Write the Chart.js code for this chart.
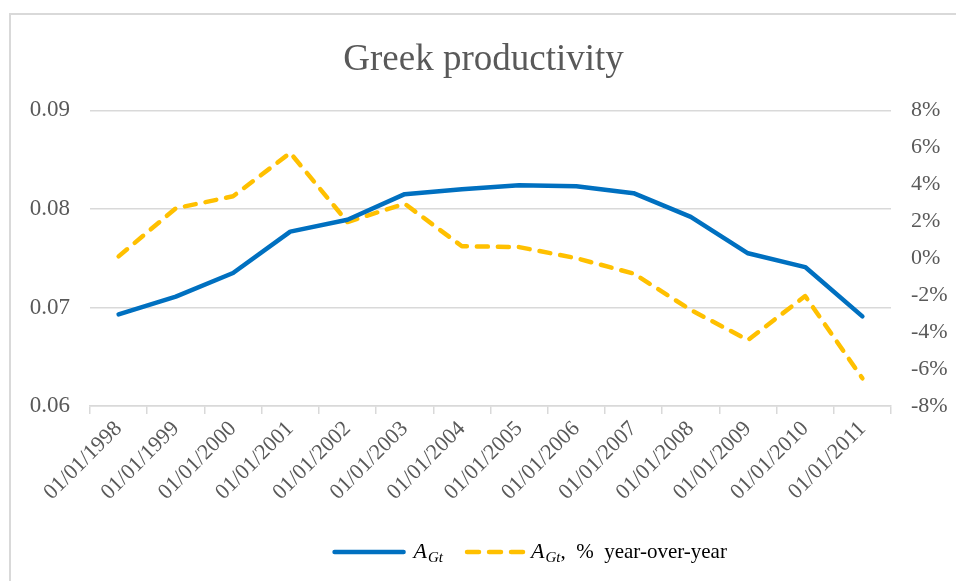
<!DOCTYPE html>
<html>
<head>
<meta charset="utf-8">
<script src="https://cdn.jsdelivr.net/npm/chart.js@4.4.1/dist/chart.umd.min.js"></script>
<style>
  html, body { margin: 0; padding: 0; background: #fff; width: 956px; height: 581px; overflow: hidden; }
  #frame { position: absolute; left: 9px; top: 13px; width: 1000px; height: 620px; border: 2px solid #d9d9d9; box-sizing: border-box; }
  #wrap { position: absolute; left: 11px; top: 15px; width: 945px; height: 566px; }
</style>
</head>
<body>
<div id="frame"></div>
<div id="wrap"><canvas id="chart"></canvas></div>
<script>
const categories = [
  "01/01/1998", "01/01/1999", "01/01/2000", "01/01/2001", "01/01/2002",
  "01/01/2003", "01/01/2004", "01/01/2005", "01/01/2006", "01/01/2007",
  "01/01/2008", "01/01/2009", "01/01/2010", "01/01/2011"
];
const productivity = [0.0693, 0.0711, 0.0735, 0.0777, 0.0789, 0.0815, 0.0820,
  0.0824, 0.0823, 0.0816, 0.0792, 0.0755, 0.0741, 0.0691];
// year-over-year change, in percent
const growthPct = [0.1, 2.7, 3.35, 5.7, 1.96, 2.95, 0.65,
  0.6, 0.0, -0.83, -2.8, -4.43, -2.05, -6.5];
const leftTicks = [0.06, 0.07, 0.08, 0.09];
const rightTicks = [-8, -6, -4, -2, 0, 2, 4, 6, 8];

const SERIF = "'Liberation Serif', 'Times New Roman', serif";
const GREY = "#595959";
const GRID = "#d9d9d9";

// legend drawn by hand so the subscript can be shown
const mathLegend = {
  id: "mathLegend",
  afterDraw(chart) {
    const ctx = chart.ctx;
    const ds = chart.data.datasets;
    const y = chart.height - 29;
    const big = "italic 22px " + SERIF;
    const small = "italic 15px " + SERIF;
    const plain = "21px " + SERIF;
    ctx.save();
    ctx.textBaseline = "middle";

    const symbolWidth = () => {
      ctx.font = big; const a = ctx.measureText("A").width;
      ctx.font = small; const b = ctx.measureText("Gt").width;
      return a + b + 1;
    };
    const drawSymbol = (x) => {
      ctx.fillStyle = "#000";
      ctx.font = big; ctx.fillText("A", x, y);
      const a = ctx.measureText("A").width;
      ctx.font = small; ctx.fillText("Gt", x + a + 1, y + 6);
      return x + symbolWidth();
    };
    ctx.font = plain;
    const tail = ",  %  year-over-year";
    const tailW = ctx.measureText(tail).width;
    const total = 69 + 10 + symbolWidth() + 22 + 60 + 6 + symbolWidth() + tailW;
    let x = chart.width * 0.55 - total / 2;

    ctx.lineCap = "round";
    ctx.lineWidth = 4.5;
    ctx.strokeStyle = ds[0].borderColor;
    ctx.beginPath(); ctx.moveTo(x, y); ctx.lineTo(x + 69, y); ctx.stroke();
    x = drawSymbol(x + 79) + 22;

    ctx.strokeStyle = ds[1].borderColor;
    ctx.setLineDash([12, 10]);
    ctx.beginPath(); ctx.moveTo(x + 2, y); ctx.lineTo(x + 58, y); ctx.stroke();
    ctx.setLineDash([]);
    x = drawSymbol(x + 66);
    ctx.font = plain;
    ctx.fillStyle = "#000";
    ctx.fillText(tail, x, y);
    ctx.restore();
  }
};

new Chart(document.getElementById("chart"), {
  type: "line",
  data: {
    labels: categories,
    datasets: [
      {
        label: "A_Gt",
        data: productivity,
        yAxisID: "y",
        borderColor: "#0070c0",
        borderWidth: 4.5,
        pointRadius: 0,
        tension: 0,
        borderCapStyle: "round",
        borderJoinStyle: "round",
        fill: false
      },
      {
        label: "A_Gt, % year-over-year",
        data: growthPct,
        yAxisID: "y1",
        borderColor: "#ffc000",
        borderWidth: 4.5,
        borderDash: [11, 10],
        borderCapStyle: "round",
        borderJoinStyle: "round",
        pointRadius: 0,
        tension: 0,
        fill: false
      }
    ]
  },
  options: {
    responsive: true,
    maintainAspectRatio: false,
    animation: false,
    layout: { padding: 0 },
    plugins: {
      legend: { display: false },
      tooltip: { enabled: false },
      title: {
        display: true,
        text: "Greek productivity",
        color: GREY,
        font: { family: SERIF, size: 37, weight: "normal" },
        padding: { top: 23, bottom: 28 }
      }
    },
    scales: {
      x: {
        offset: true,
        grid: { drawOnChartArea: false, drawTicks: true, tickLength: 8, color: GRID, lineWidth: 1.5, offset: true },
        border: { color: GRID, width: 1.5 },
        ticks: {
          color: GREY,
          font: { family: SERIF, size: 22 },
          minRotation: 45,
          maxRotation: 45,
          autoSkip: false,
          padding: 2
        },
        afterFit(scale) { scale.height = 175; }
      },
      y: {
        position: "left",
        min: leftTicks[0],
        max: leftTicks[leftTicks.length - 1],
        afterBuildTicks(scale) { scale.ticks = leftTicks.map(v => ({ value: v })); },
        grid: { color: GRID, lineWidth: 1.5, drawTicks: false },
        border: { display: false },
        ticks: {
          color: GREY,
          font: { family: SERIF, size: 23 },
          padding: 20,
          callback: v => v.toFixed(2)
        },
        afterFit(scale) { scale.width = 79; }
      },
      y1: {
        position: "right",
        min: rightTicks[0],
        max: rightTicks[rightTicks.length - 1],
        afterBuildTicks(scale) { scale.ticks = rightTicks.map(v => ({ value: v })); },
        grid: { drawOnChartArea: false, drawTicks: false },
        border: { display: false },
        ticks: {
          color: GREY,
          font: { family: SERIF, size: 22 },
          padding: 20,
          callback: v => Math.round(v) + "%"
        },
        afterFit(scale) { scale.width = 65; }
      }
    }
  },
  plugins: [mathLegend]
});
</script>
</body>
</html>
